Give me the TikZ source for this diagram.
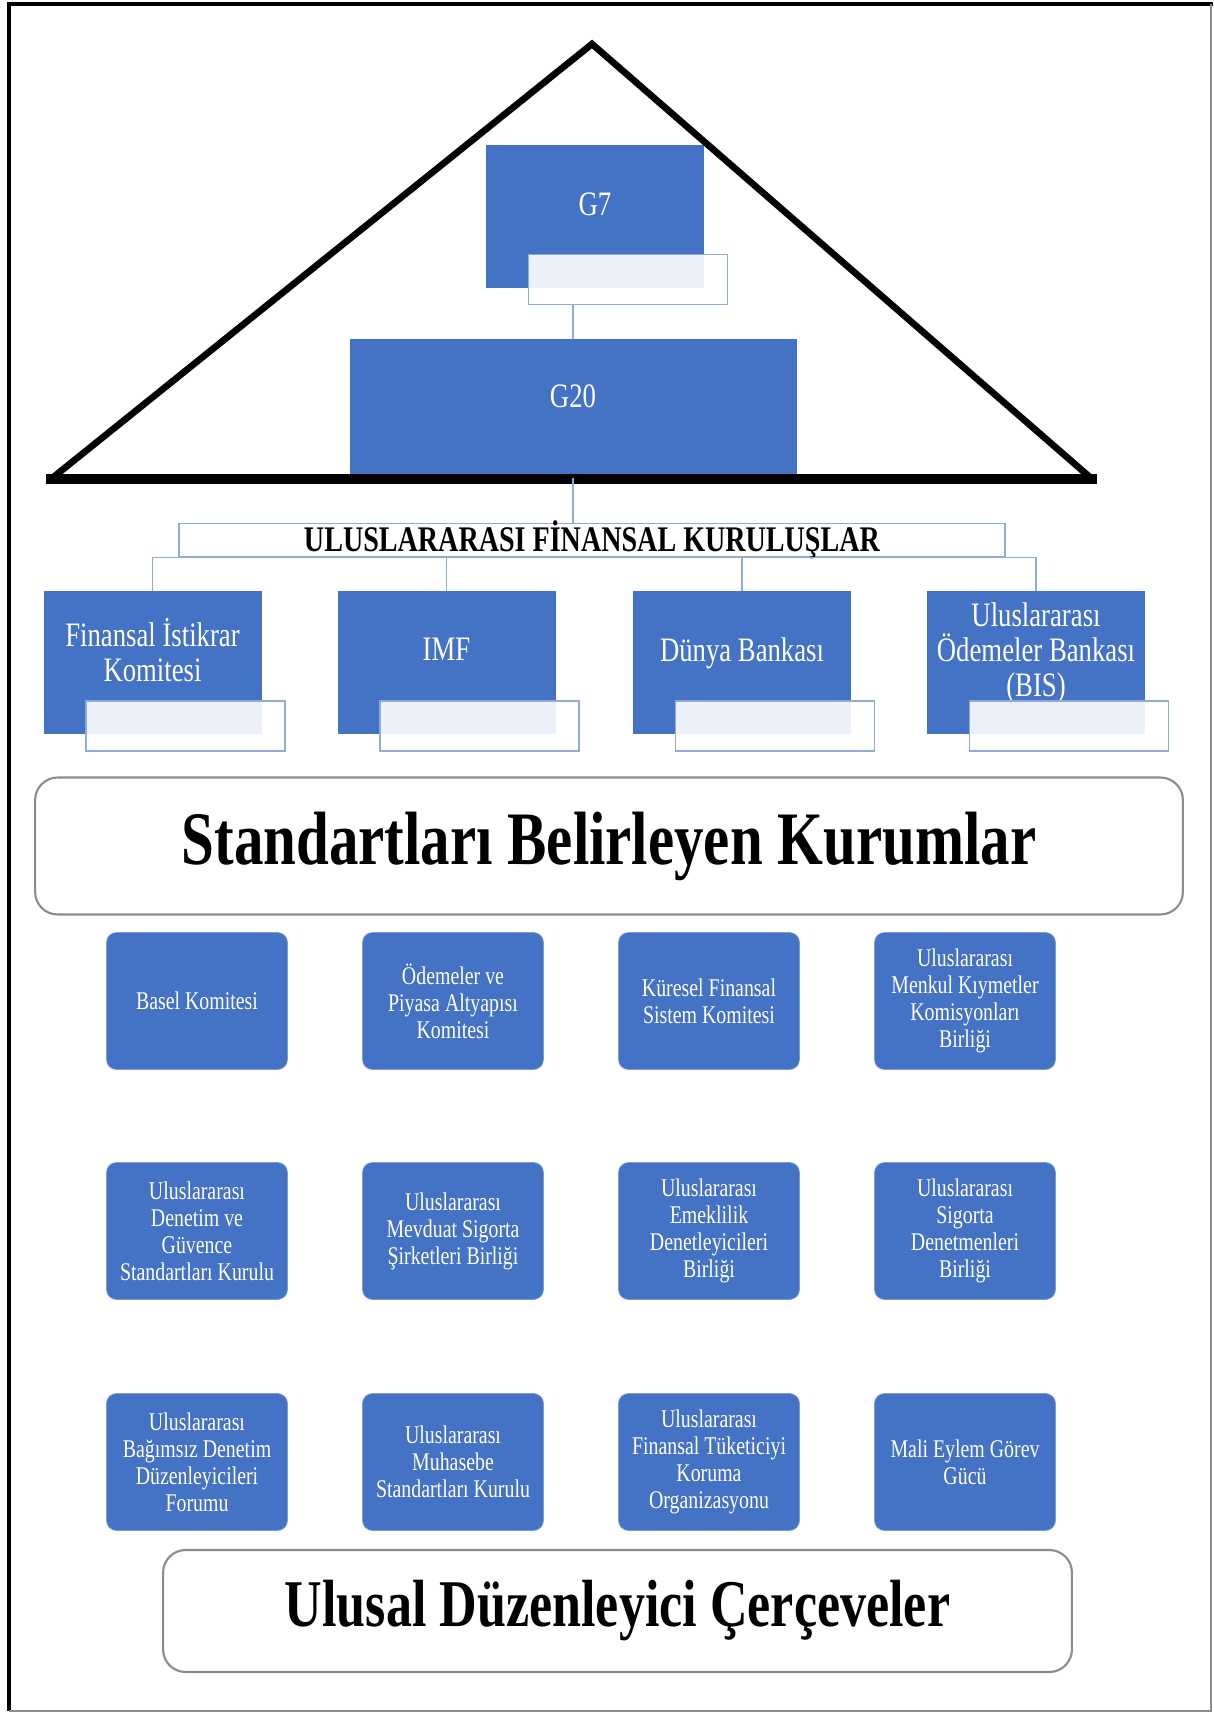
\documentclass[tikz,border=0pt]{standalone}
\usepackage{fontspec}
\setmainfont{Liberation Serif}[FakeStretch=0.78]
\usetikzlibrary{positioning,calc}
\definecolor{officeblue}{HTML}{4472C4}
\definecolor{linkblue}  {HTML}{8FAADC}
\definecolor{edgegray}  {HTML}{8C8C8C}
\tikzset{
  >=stealth,
  % --- nodes
  org/.style  = {fill=officeblue, draw=officeblue, text=white, align=center,
                 inner sep=2pt, minimum width=4.34cm, minimum height=2.84cm,
                 text depth=0.5cm, font=\fontsize{19.5}{20}\selectfont},
  tag/.style  = {draw=linkblue, line width=0.8pt, fill=white, fill opacity=0.9,
                 minimum width=3.98cm, minimum height=1cm, inner sep=0pt},
  band/.style = {rounded corners=0.45cm, draw=black!45, line width=1.2pt, fill=white,
                 inner sep=0pt},
  % --- edges
  link/.style = {draw=linkblue, line width=0.7pt},
  tri/.style  = {draw=black, line width=3.8pt, line join=miter},
}

\begin{document}
\begin{tikzpicture}[x=0.02cm, y=-0.02cm,
  k/.style={rounded corners=0.2cm, fill=officeblue, draw=officeblue!70!white, text=white,
            align=center, inner sep=2pt, minimum width=3.62cm, minimum height=2.74cm,
            font=\fontsize{14.5}{15.4}\selectfont},
  hdr/.style={draw=linkblue, line width=0.8pt, fill=white, inner sep=0.1cm,
              minimum width=16.52cm, text height=0.47cm, text depth=0cm,
              font=\bfseries\fontsize{20.5}{20.5}\selectfont},
]
  \useasboundingbox (0,0) rectangle (1213,1713);
  \draw[line width=2.2pt] (9,1711) -- (9,4) -- (1213,4);
  \draw[edgegray, line width=0.8pt] (1211,4) -- (1211,1711) -- (9,1711);

  % top of the pyramid
  \node[org] (g7) at (595,216.5) {G7};
  \node[tag] (g7t) at (628,279.5) {};
  \node[org, minimum width=8.92cm, minimum height=2.78cm] (g20) at (573,408.5) {G20};
  \draw[link] (g7t.south -| g20.north) -- (g20.north);
  \draw[tri] (51,479) -- (592,44) -- (1092,479);
  \draw[tri, line width=6.2pt] (46,479) -- (1097,479);

  \node[hdr] (ufk) at (592,540) {ULUSLARARASI FİNANSAL KURULUŞLAR};
  \draw[link] (g20.south) -- (g20.south |- ufk.north);

  \node[org] (fsb) at (152.5,662) {Finansal İstikrar\\Komitesi};
  \node[org] (imf) at (446.5,662) {IMF};
  \node[org] (wb) at (742,662) {Dünya Bankası};
  \node[org] (bis) at (1036,662) {Uluslararası\\Ödemeler Bankası\\(BIS)};
  \node[tag] (fsbt) at (185.5,726) {};
  \node[tag] (imft) at (479.5,726) {};
  \node[tag] (wbt) at (775,726) {};
  \node[tag] (bist) at (1069,726) {};
  \foreach \n in {fsb,imf,wb,bis} \draw[link] (g20.south |- ufk.south) -| (\n.north);

  \node[band, minimum width=22.96cm, minimum height=2.74cm,
        font=\bfseries\fontsize{43}{43}\selectfont] (sbk) at (609,846) {Standartları Belirleyen Kurumlar};

  % standard setters
  \node[k] (basel) at (197,1001) {Basel Komitesi};
  \node[k] (cpmi) at (453,1001) {Ödemeler ve\\Piyasa Altyapısı\\Komitesi};
  \node[k] (cgfs) at (709,1001) {Küresel Finansal\\Sistem Komitesi};
  \node[k] (iosco) at (965,1001) {Uluslararası\\Menkul Kıymetler\\Komisyonları\\Birliği};
  \node[k] (iaasb) at (197,1231) {Uluslararası\\Denetim ve\\Güvence\\Standartları Kurulu};
  \node[k] (iadi) at (453,1231) {Uluslararası\\Mevduat Sigorta\\Şirketleri Birliği};
  \node[k] (iops) at (709,1231) {Uluslararası\\Emeklilik\\Denetleyicileri\\Birliği};
  \node[k] (iais) at (965,1231) {Uluslararası\\Sigorta\\Denetmenleri\\Birliği};
  \node[k] (ifiar) at (197,1462) {Uluslararası\\Bağımsız Denetim\\Düzenleyicileri\\Forumu};
  \node[k] (iasb) at (453,1462) {Uluslararası\\Muhasebe\\Standartları Kurulu};
  \node[k] (finco) at (709,1462) {Uluslararası\\Finansal Tüketiciyi\\Koruma\\Organizasyonu};
  \node[k] (fatf) at (965,1462) {Mali Eylem Görev\\Gücü};

  \node[band, minimum width=18.18cm, minimum height=2.44cm,
        font=\bfseries\fontsize{38}{38}\selectfont] (udc) at (617.5,1611) {Ulusal Düzenleyici Çerçeveler};
\end{tikzpicture}
\end{document}
